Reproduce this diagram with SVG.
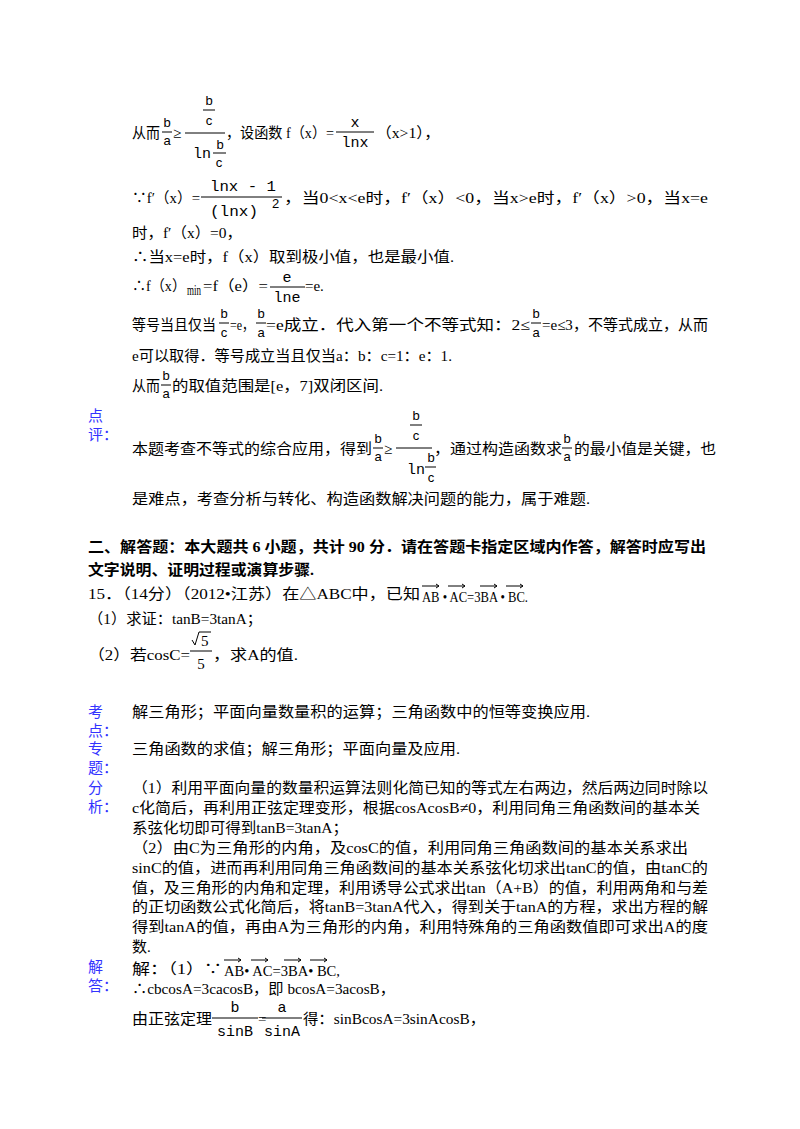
<svg xmlns="http://www.w3.org/2000/svg" width="800" height="1129" viewBox="0 0 800 1129">
<style>
text{font-family:"Liberation Serif","Noto Sans CJK SC",serif;font-size:15px;fill:#000}
.s{font-family:"Liberation Sans",sans-serif;font-size:13px}
.m{font-family:"Liberation Mono","Noto Sans CJK SC",monospace;font-size:15px}
.lab{fill:#3333ff}
.b{font-weight:bold;font-size:15px}
line{stroke:#000;stroke-width:1}
.c{text-anchor:middle}
</style>
<rect width="800" height="1129" fill="#fff"/>
<g id="derivation">
<text x="132" y="138" textLength="28" lengthAdjust="spacingAndGlyphs">从而</text>
<text x="167" y="127" class="s c">b</text><line x1="162" y1="132" x2="172" y2="132"/><text x="167" y="145" class="s c">a</text>
<text x="173" y="138">≥</text>
<text x="209" y="105" class="s c">b</text><line x1="203" y1="110" x2="215" y2="110"/><text x="209" y="125" class="s c">c</text>
<line x1="185" y1="133" x2="225" y2="133"/>
<text x="193" y="158" class="m" textLength="18" lengthAdjust="spacingAndGlyphs">ln</text>
<text x="220" y="149" class="s c">b</text><line x1="213" y1="153" x2="226" y2="153"/><text x="219" y="167" class="s c">c</text>
<text x="226" y="138" textLength="108" lengthAdjust="spacingAndGlyphs">，设函数 f（x）=</text>
<text x="355" y="127" class="m c">x</text><line x1="336" y1="132" x2="374" y2="132"/><text x="355" y="147" class="m c">lnx</text>
<text x="376" y="138" textLength="64" lengthAdjust="spacingAndGlyphs">（x&gt;1），</text>

<text x="132" y="203" textLength="68" lengthAdjust="spacingAndGlyphs">∵f′（x）=</text>
<text x="243" y="191" class="m c" textLength="66" lengthAdjust="spacingAndGlyphs">lnx - 1</text><line x1="201" y1="197" x2="282" y2="197"/><text x="210" y="216" class="m" textLength="48" lengthAdjust="spacingAndGlyphs">(lnx)</text><text x="272" y="208" class="s">2</text>
<text x="284" y="203" textLength="424" lengthAdjust="spacingAndGlyphs">，当0&lt;x&lt;e时，f′（x）&lt;0，当x&gt;e时，f′（x）&gt;0，当x=e</text>
<text x="132" y="238" textLength="110" lengthAdjust="spacingAndGlyphs">时，f′（x）=0，</text>
<text x="132" y="262" textLength="322" lengthAdjust="spacingAndGlyphs">∴当x=e时，f（x）取到极小值，也是最小值.</text>
<text x="132" y="291" textLength="54" lengthAdjust="spacingAndGlyphs">∴f（x）</text><text x="187" y="295" font-size="9" textLength="14" lengthAdjust="spacingAndGlyphs">min</text><text x="203" y="291" textLength="65" lengthAdjust="spacingAndGlyphs">=f（e）=</text>
<text x="287" y="282" class="m c">e</text><line x1="270" y1="287" x2="305" y2="287"/><text x="287" y="302" class="m c">lne</text>
<text x="305" y="291">=e.</text>

<text x="132" y="330" textLength="84" lengthAdjust="spacingAndGlyphs">等号当且仅当</text>
<text x="224" y="318" class="s c">b</text><line x1="219" y1="323" x2="229" y2="323"/><text x="224" y="337" class="s c">c</text>
<text x="230" y="330" textLength="24" lengthAdjust="spacingAndGlyphs">=e，</text>
<text x="261" y="318" class="s c">b</text><line x1="256" y1="323" x2="266" y2="323"/><text x="261" y="337" class="s c">a</text>
<text x="266" y="330" textLength="264" lengthAdjust="spacingAndGlyphs">=e成立．代入第一个不等式知：2≤</text>
<text x="536" y="318" class="s c">b</text><line x1="531" y1="323" x2="541" y2="323"/><text x="536" y="337" class="s c">a</text>
<text x="542" y="330" textLength="166" lengthAdjust="spacingAndGlyphs">=e≤3，不等式成立，从而</text>
<text x="132" y="361" textLength="320" lengthAdjust="spacingAndGlyphs">e可以取得．等号成立当且仅当a：b：c=1：e：1.</text>
<text x="132" y="391" textLength="28" lengthAdjust="spacingAndGlyphs">从而</text>
<text x="166" y="380" class="s c">b</text><line x1="161" y1="385" x2="171" y2="385"/><text x="166" y="398" class="s c">a</text>
<text x="172" y="391" textLength="211" lengthAdjust="spacingAndGlyphs">的取值范围是[e，7]双闭区间.</text>
</g>

<g id="review">
<text x="88" y="421" class="lab">点</text>
<text x="88" y="440" class="lab">评：</text>
<text x="132" y="454" textLength="240" lengthAdjust="spacingAndGlyphs">本题考查不等式的综合应用，得到</text>
<text x="378" y="443" class="s c">b</text><line x1="373" y1="448" x2="383" y2="448"/><text x="378" y="461" class="s c">a</text>
<text x="384" y="454">≥</text>
<text x="416" y="420" class="s c">b</text><line x1="410" y1="425" x2="422" y2="425"/><text x="416" y="440" class="s c">c</text>
<line x1="396" y1="448" x2="432" y2="448"/>
<text x="407" y="474" class="m" textLength="18" lengthAdjust="spacingAndGlyphs">ln</text>
<text x="431" y="462" class="s c">b</text><line x1="425" y1="467" x2="436" y2="467"/><text x="431" y="482" class="s c">c</text>
<text x="434" y="454" textLength="128" lengthAdjust="spacingAndGlyphs">，通过构造函数求</text>
<text x="567" y="443" class="s c">b</text><line x1="562" y1="448" x2="572" y2="448"/><text x="567" y="461" class="s c">a</text>
<text x="574" y="454" textLength="142" lengthAdjust="spacingAndGlyphs">的最小值是关键，也</text>
<text x="132" y="504" textLength="458" lengthAdjust="spacingAndGlyphs">是难点，考查分析与转化、构造函数解决问题的能力，属于难题.</text>
</g>

<g id="problem">
<text x="88" y="552" class="b" textLength="618" lengthAdjust="spacingAndGlyphs">二、解答题：本大题共 6 小题，共计 90 分．请在答题卡指定区域内作答，解答时应写出</text>
<text x="88" y="575" class="b" textLength="226" lengthAdjust="spacingAndGlyphs">文字说明、证明过程或演算步骤.</text>
<text x="88" y="599" textLength="332" lengthAdjust="spacingAndGlyphs">15．（14分）（2012•江苏）在△ABC中，已知</text>
<text x="422" y="602" font-family="Liberation Sans" textLength="106" lengthAdjust="spacingAndGlyphs">AB • AC=3BA • BC.</text>
<g stroke="#000" fill="none">
<path d="M422 586H439M436 584l3 2-3 2M448 586H465M462 584l3 2-3 2M480 586H497M494 584l3 2-3 2M506 586H523M520 584l3 2-3 2"/>
</g>
<text x="88" y="624" textLength="174" lengthAdjust="spacingAndGlyphs">（1）求证：tanB=3tanA；</text>
<text x="88" y="660" textLength="102" lengthAdjust="spacingAndGlyphs">（2）若cosC=</text>
<path d="M192 640l3 5 4-13h12" stroke="#000" fill="none"/><text x="201" y="646" font-size="14">5</text>
<line x1="190" y1="651" x2="212" y2="651"/><text x="201" y="669" class="c">5</text>
<text x="213" y="660" textLength="85" lengthAdjust="spacingAndGlyphs">，求A的值.</text>
</g>

<g id="keypoint">
<text x="88" y="717" class="lab">考</text>
<text x="88" y="736" class="lab">点：</text>
<text x="132" y="717" textLength="458" lengthAdjust="spacingAndGlyphs">解三角形；平面向量数量积的运算；三角函数中的恒等变换应用.</text>
<text x="88" y="754" class="lab">专</text>
<text x="88" y="773" class="lab">题：</text>
<text x="132" y="754" textLength="328" lengthAdjust="spacingAndGlyphs">三角函数的求值；解三角形；平面向量及应用.</text>
</g>

<g id="analysis">
<text x="88" y="793" class="lab">分</text>
<text x="88" y="812" class="lab">析：</text>
<text x="132" y="793" textLength="576" lengthAdjust="spacingAndGlyphs">（1）利用平面向量的数量积运算法则化简已知的等式左右两边，然后两边同时除以</text>
<text x="132" y="813" textLength="568" lengthAdjust="spacingAndGlyphs">c化简后，再利用正弦定理变形，根据cosAcosB≠0，利用同角三角函数间的基本关</text>
<text x="132" y="833" textLength="216" lengthAdjust="spacingAndGlyphs">系弦化切即可得到tanB=3tanA；</text>
<text x="132" y="853" textLength="556" lengthAdjust="spacingAndGlyphs">（2）由C为三角形的内角，及cosC的值，利用同角三角函数间的基本关系求出</text>
<text x="132" y="873" textLength="576" lengthAdjust="spacingAndGlyphs">sinC的值，进而再利用同角三角函数间的基本关系弦化切求出tanC的值，由tanC的</text>
<text x="132" y="893" textLength="576" lengthAdjust="spacingAndGlyphs">值，及三角形的内角和定理，利用诱导公式求出tan（A+B）的值，利用两角和与差</text>
<text x="132" y="912" textLength="576" lengthAdjust="spacingAndGlyphs">的正切函数公式化简后，将tanB=3tanA代入，得到关于tanA的方程，求出方程的解</text>
<text x="132" y="932" textLength="576" lengthAdjust="spacingAndGlyphs">得到tanA的值，再由A为三角形的内角，利用特殊角的三角函数值即可求出A的度</text>
<text x="132" y="952">数.</text>
</g>

<g id="answer">
<text x="88" y="972" class="lab">解</text>
<text x="88" y="991" class="lab">答：</text>
<text x="132" y="974" textLength="90" lengthAdjust="spacingAndGlyphs">解：（1）∵</text>
<text x="224" y="976" font-family="Liberation Sans" textLength="116" lengthAdjust="spacingAndGlyphs">AB• AC=3BA• BC,</text>
<g stroke="#000" fill="none">
<path d="M224 960H241M238 958l3 2-3 2M251 960H268M265 958l3 2-3 2M284 960H301M298 958l3 2-3 2M310 960H327M324 958l3 2-3 2"/>
</g>
<text x="132" y="994" textLength="263" lengthAdjust="spacingAndGlyphs">∴cbcosA=3cacosB，即 bcosA=3acosB，</text>
<text x="132" y="1024" textLength="80" lengthAdjust="spacingAndGlyphs">由正弦定理</text>
<text x="235" y="1012" class="m c">b</text><line x1="212" y1="1018" x2="258" y2="1018"/><text x="235" y="1036" class="m c">sinB</text>
<text x="258" y="1024">=</text>
<text x="282" y="1012" class="m c">a</text><line x1="262" y1="1018" x2="302" y2="1018"/><text x="282" y="1036" class="m c">sinA</text>
<text x="303" y="1024" textLength="182" lengthAdjust="spacingAndGlyphs">得：sinBcosA=3sinAcosB，</text>
</g>
</svg>
